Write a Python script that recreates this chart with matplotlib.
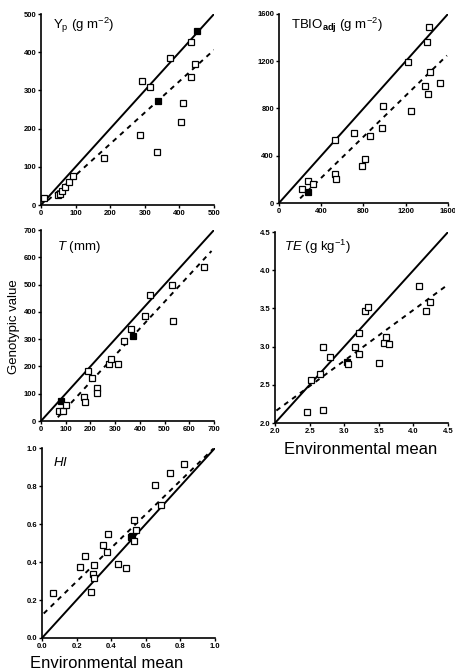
import matplotlib
matplotlib.use('Agg')
import matplotlib.pyplot as plt
import numpy as np

plt.rc('font', **{'family': 'sans-serif', 'sans-serif': ['Liberation Sans', 'DejaVu Sans']})
plt.rc('mathtext', fontset='custom', rm='Liberation Sans', it='Liberation Sans:italic', bf='Liberation Sans:bold')

# grain yield, Yp (g m-2)
yp_env = [8, 48, 55, 62, 70, 80, 92, 182, 287, 293, 315, 335, 338, 373, 406, 410, 433, 433, 445, 450]
yp_gen = [18, 25, 30, 38, 48, 60, 76, 123, 183, 326, 309, 139, 273, 385, 218, 267, 336, 427, 370, 455]
yp_cheio = [12, 19]
yp_fit = (0.82, -4.0, 20, 500)

# adjusted total biomass, TBIO_adj (g m-2)
tb_env = [217, 271, 271, 318, 532, 532, 536, 712, 787, 813, 860, 976, 983, 1222, 1247, 1380, 1402, 1414, 1427, 1424, 1528]
tb_gen = [116, 184, 93, 161, 532, 249, 201, 589, 314, 371, 566, 637, 821, 1195, 782, 991, 1359, 923, 1107, 1490, 1014]
tb_cheio = [2]
tb_fit = (0.87, -135.0, 200, 1590)

# transpiration, T (mm)
t_env = [73, 91, 82, 102, 176, 179, 192, 206, 226, 227, 275, 283, 310, 336, 365, 373, 419, 443, 531, 533, 658]
t_gen = [38, 36, 75, 59, 89, 71, 184, 157, 120, 102, 210, 227, 210, 292, 337, 310, 386, 463, 497, 365, 565]
t_cheio = [2, 15]
t_fit = (0.98, -53.0, 68, 690)

# transpiration efficiency, TE (g kg-1)
te_env = [2.46, 2.69, 2.69, 2.52, 2.65, 2.79, 3.04, 3.05, 3.16, 3.21, 3.21, 3.30, 3.34, 3.50, 3.58, 3.60, 3.64, 4.08, 4.18, 4.24]
te_gen = [2.15, 2.17, 3.00, 2.56, 2.64, 2.86, 2.80, 2.77, 2.99, 2.91, 3.18, 3.46, 3.52, 2.78, 3.05, 3.12, 3.04, 3.80, 3.46, 3.59]
te_cheio = [6]
te_fit = (0.665, 0.82, 2.02, 4.46)

# harvest index, HI
hi_env = [0.063, 0.217, 0.246, 0.281, 0.294, 0.302, 0.300, 0.352, 0.375, 0.381, 0.437, 0.487, 0.515, 0.523, 0.529, 0.531, 0.544, 0.656, 0.688, 0.737, 0.823]
hi_gen = [0.237, 0.374, 0.430, 0.244, 0.337, 0.386, 0.316, 0.488, 0.453, 0.549, 0.391, 0.370, 0.532, 0.535, 0.509, 0.623, 0.567, 0.804, 0.702, 0.868, 0.918]
hi_cheio = [13]
hi_fit = (0.885, 0.12, 0.01, 0.99)


def painel(rect, env, gen, cheio, fit, lim, ticks, fmt, titulo, tx, ty):
    ax = fig.add_axes(rect)
    # 1:1 line and fitted regression
    ax.plot(lim, lim, color='black', lw=1.4, zorder=2)
    a, b, x0, x1 = fit
    xs = np.array([x0, x1])
    ax.plot(xs, a * xs + b, color='black', lw=1.4, ls=(0, (2.5, 2.5)), zorder=2)
    for i, (x, y) in enumerate(zip(env, gen)):
        face = 'black' if i in cheio else 'white'
        ax.plot(x, y, 's', ms=4, mfc=face, mec='black', mew=0.9, zorder=3, clip_on=False)
    ax.set_xlim(lim)
    ax.set_ylim(lim)
    ax.set_xticks(ticks)
    ax.set_yticks(ticks)
    ax.set_xticklabels([fmt.format(t) for t in ticks])
    ax.set_yticklabels([fmt.format(t) for t in ticks])
    for lado in ['top', 'right']:
        ax.spines[lado].set_visible(False)
    for lado in ['left', 'bottom']:
        ax.spines[lado].set_linewidth(1.2)
    ax.tick_params(direction='out', length=2, width=1, pad=1.5, labelsize=5.5)
    for lbl in ax.get_xticklabels() + ax.get_yticklabels():
        lbl.set_fontweight('bold')
    ax.text(tx, ty, titulo, transform=ax.transAxes, fontsize=9.5, ha='left', va='center')
    return ax


fig = plt.figure(figsize=(4.56, 6.72), dpi=100)

painel([0.0899, 0.6949, 0.3794, 0.2842], yp_env, yp_gen, yp_cheio, yp_fit,
       [0, 500], [0, 100, 200, 300, 400, 500], '{:.0f}', r'Y$_\mathrm{p}$ (g m$^{-2}$)', 0.07, 0.94)
painel([0.6118, 0.6979, 0.3706, 0.2813], tb_env, tb_gen, tb_cheio, tb_fit,
       [0, 1600], [0, 400, 800, 1200, 1600], '{:.0f}', r'TBIO$_\mathbf{adj}$ (g m$^{-2}$)', 0.07, 0.94)
painel([0.0899, 0.3735, 0.3794, 0.2842], t_env, t_gen, t_cheio, t_fit,
       [0, 700], [0, 100, 200, 300, 400, 500, 600, 700], '{:.0f}', r'$T$ (mm)', 0.09, 0.91)
painel([0.6031, 0.3705, 0.3794, 0.2842], te_env, te_gen, te_cheio, te_fit,
       [2.0, 4.5], [2.0, 2.5, 3.0, 3.5, 4.0, 4.5], '{:.1f}', r'$TE$ (g kg$^{-1}$)', 0.05, 0.92)
painel([0.0921, 0.0506, 0.3794, 0.2827], hi_env, hi_gen, hi_cheio, hi_fit,
       [0.0, 1.0], [0.0, 0.2, 0.4, 0.6, 0.8, 1.0], '{:.1f}', r'$HI$', 0.065, 0.926)

fig.text(14 / 456, 1 - 327 / 672, 'Genotypic value', rotation=90, fontsize=9.5, ha='center', va='center')
fig.text(361 / 456, 1 - 449 / 672, 'Environmental mean', fontsize=12, ha='center', va='center')
fig.text(107 / 456, 1 - 664 / 672, 'Environmental mean', fontsize=12, ha='center', va='center')

fig.savefig('out.png', dpi=100)
